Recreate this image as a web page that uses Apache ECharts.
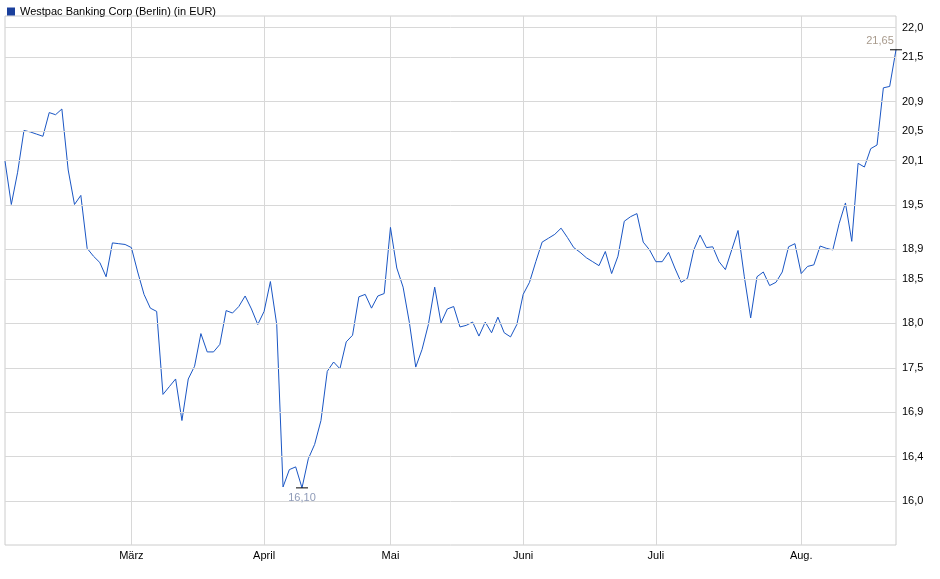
<!DOCTYPE html>
<html><head><meta charset="utf-8">
<script src="https://cdn.jsdelivr.net/npm/echarts@6/dist/echarts.min.js"></script>
<style>html,body{margin:0;padding:0;background:#fff}#c{width:940px;height:579px}</style>
</head><body><div id="c"></div>
<script>
const seriesName = 'Westpac Banking Corp (Berlin) (in EUR)';
const prices = [
20.08,19.5,19.93,20.5,20.48,20.45,20.42,20.75,20.72,20.8,
19.96,19.5,19.62,18.93,18.83,18.75,18.57,19.0,18.99,18.98,
18.94,18.63,18.35,18.18,18.14,17.15,17.24,17.33,16.85,17.33,
17.48,17.87,17.65,17.65,17.74,18.15,18.12,18.2,18.33,18.17,
17.98,18.14,18.51,17.98,16.11,16.3,16.33,16.10,16.42,16.58,
16.85,17.42,17.53,17.45,17.77,17.85,18.32,18.35,18.18,18.33,
18.36,19.2,18.68,18.44,18.0,17.47,17.68,17.98,18.44,18.0,
18.17,18.2,17.95,17.97,18.01,17.84,18.01,17.88,18.07,17.88,
17.83,17.98,18.35,18.5,18.76,19.01,19.06,19.11,19.19,19.07,
18.94,18.88,18.81,18.76,18.71,18.89,18.61,18.83,19.28,19.34,
19.38,19.01,18.91,18.76,18.76,18.88,18.68,18.5,18.55,18.91,
19.1,18.94,18.95,18.76,18.66,18.91,19.16,18.57,18.06,18.57,
18.63,18.46,18.5,18.63,18.95,18.99,18.61,18.7,18.72,18.96,
18.93,18.91,19.25,19.52,19.02,20.05,20.0,20.25,20.3,21.1,
21.12,21.65];
const monthLabels = {20:'März',41:'April',61:'Mai',82:'Juni',103:'Juli',126:'Aug.'};
const yTicks = [16.0,16.5,17.0,17.5,18.0,18.5,19.0,19.5,20.0,20.5,21.0,21.5,22.0];
const yMin = 15.49, yMax = 22.15;
const maxLabel = '21,65', minLabel = '16,10';

const cats = prices.map((_, i) => i);
const fmt = v => v.toFixed(1).replace('.', ',');
const logData = prices.map(v => Math.log(v));
const iMax = prices.indexOf(Math.max(...prices));
const iMin = prices.indexOf(Math.min(...prices));
const monthIdx = Object.keys(monthLabels).map(Number);

const chart = echarts.init(document.getElementById('c'));
chart.setOption({
  animation: false,
  backgroundColor: '#fff',
  legend: {left: 2, top: 1, itemWidth: 8, itemHeight: 8, icon: 'rect',
    textStyle: {fontFamily: 'Liberation Sans', fontSize: 11, color: '#000'}, itemGap: 4},
  grid: {left: 5, right: 44, top: 16, bottom: 34, show: true, borderColor: '#ccc', borderWidth: 1},
  xAxis: {type: 'category', data: cats, boundaryGap: false,
    axisLine: {show: false}, axisTick: {show: false},
    splitLine: {show: true, interval: (i) => monthIdx.includes(i), lineStyle: {color: '#d8d8d8'}},
    axisLabel: {interval: (i) => monthIdx.includes(i), formatter: (v) => monthLabels[v] || '',
      fontFamily: 'Liberation Sans', fontSize: 11, color: '#000', margin: 5}},
  yAxis: {type: 'value', min: Math.log(yMin), max: Math.log(yMax), position: 'right',
    axisLabel: {show: false}, splitLine: {show: false}, axisLine: {show: false}, axisTick: {show: false}},
  series: [{
    name: seriesName, type: 'line', data: logData, symbol: 'none',
    lineStyle: {color: '#1a56c4', width: 1}, itemStyle: {color: '#1a3f9c'},
    markLine: {silent: true, symbol: 'none', animation: false,
      lineStyle: {color: '#d8d8d8', type: 'solid', width: 1},
      label: {position: 'end', distance: 6, fontFamily: 'Liberation Sans', fontSize: 11, color: '#000',
        formatter: p => fmt(Math.exp(p.value))},
      data: yTicks.map(t => ({yAxis: Math.log(t)}))},
    markPoint: {silent: true, symbol: 'rect', symbolSize: [12, 1], itemStyle: {color: '#000'},
      data: [
        {coord: [iMax, logData[iMax]], label: {show: true, formatter: maxLabel, position: 'top', offset: [-16, 0], distance: 3, color: '#a89a8c', fontSize: 11, fontFamily: 'Liberation Sans'}},
        {coord: [iMin, logData[iMin]], label: {show: true, formatter: minLabel, position: 'bottom', distance: 4, color: '#8f9bb8', fontSize: 11, fontFamily: 'Liberation Sans'}}
      ]}
  }]
});
</script></body></html>
